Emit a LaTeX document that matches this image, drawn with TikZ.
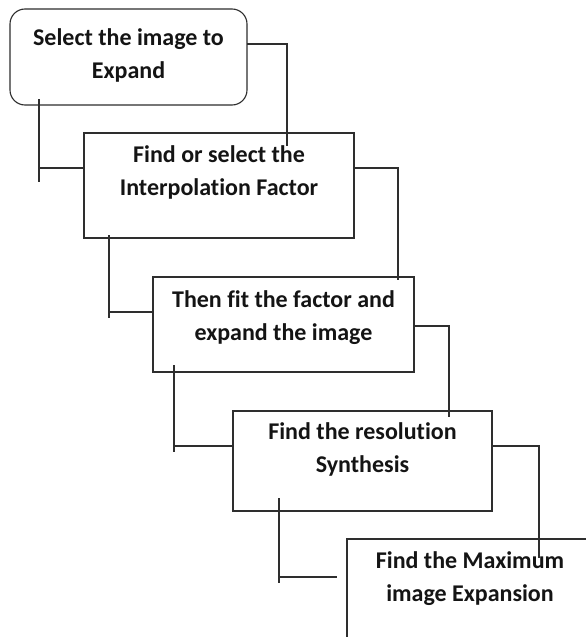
\documentclass[tikz,border=0pt]{standalone}
\usepackage{fontspec}
\setmainfont[Ligatures=NoCommon]{Carlito}
\begin{document}
\begin{tikzpicture}[x=1pt,y=-1pt,
  conn/.style={draw=black!82,line width=1.1pt},
  stepbox/.style={draw=black!82,line width=1.1pt,inner sep=0pt,outer sep=0pt,text=black!92},
  roundbox/.style={stepbox,rounded corners=15pt}]
\newcommand{\boxtext}[4]{\parbox[c][#2pt][t]{#1pt}{\centering\fontsize{24}{33.5}\selectfont\bfseries\rule{0pt}{#3pt}#4}}
\useasboundingbox (0,0) rectangle (586,637);
\clip (0,0) rectangle (586,637);
\fill[white] (0,0) rectangle (586,637);
% boxes
\node[roundbox] (B1) at (128.5,57) {\boxtext{237}{96}{36}{Select the image to\\Expand}};
\node[stepbox] (B2) at (219,185.5) {\boxtext{270}{105}{29}{Find or select the\\Interpolation Factor}};
\node[stepbox] (B3) at (283.5,324.5) {\boxtext{261}{95}{30}{Then fit the factor and\\expand the image}};
\node[stepbox] (B4) at (362.5,461) {\boxtext{259}{100}{28}{Find the resolution\\Synthesis}};
\node[stepbox] (B5) at (470,599.5) {\boxtext{246}{121}{29}{Find the Maximum\\image Expansion}};
% right-hand connectors
\coordinate (r1) at (287,146);
\coordinate (r2) at (398,280);
\coordinate (r3) at (449,417);
\coordinate (r4) at (539,558);
\draw[conn] ([yshift=13pt]B1.east) -| (r1);
\draw[conn] ([yshift=17.5pt]B2.east) -| (r2);
\draw[conn] ([yshift=-1.5pt]B3.east) -| (r3);
\draw[conn] ([yshift=15pt]B4.east) -| (r4);
% left-hand connectors
\coordinate (l1a) at (39,99);  \coordinate (l1b) at (39,182);  \coordinate (l1j) at (39,168);
\coordinate (l2a) at (109,235); \coordinate (l2b) at (109,318); \coordinate (l2j) at (109,312);
\coordinate (l3a) at (174,365); \coordinate (l3b) at (174,452); \coordinate (l3j) at (174,446);
\coordinate (l4a) at (279,498); \coordinate (l4b) at (279,583); \coordinate (l4j) at (279,577);
\coordinate (l4e) at (337,577);
\draw[conn] (l1a) -- (l1b);
\draw[conn] (l1j) -- (l1j -| B2.west);
\draw[conn] (l2a) -- (l2b);
\draw[conn] (l2j) -- (l2j -| B3.west);
\draw[conn] (l3a) -- (l3b);
\draw[conn] (l3j) -- (l3j -| B4.west);
\draw[conn] (l4a) -- (l4b);
\draw[conn] (l4j) -- (l4e);
\end{tikzpicture}
\end{document}
